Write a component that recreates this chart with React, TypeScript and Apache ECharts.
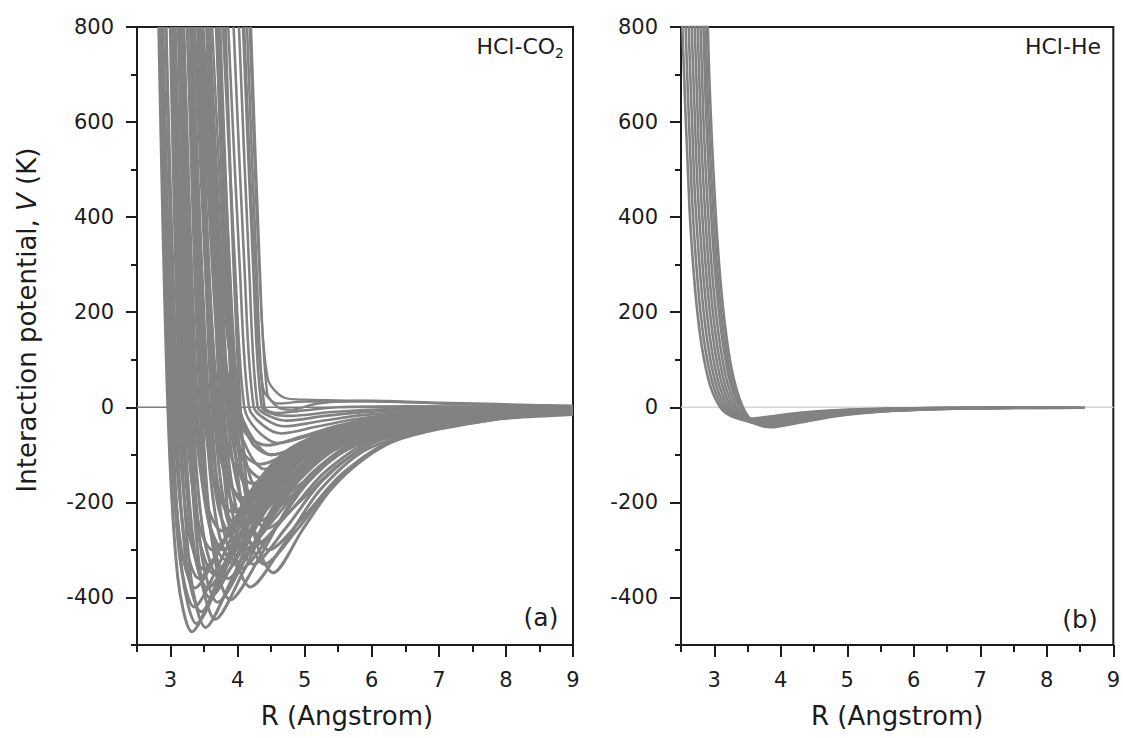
import React, { useEffect, useRef } from 'react';
import * as echarts from 'echarts';

// ---- axis ticks ----
const xMajor = [3, 4, 5, 6, 7, 8, 9];
const xMinor = [2.5, 3.5, 4.5, 5.5, 6.5, 7.5, 8.5];
const yMajor = [-400, -200, 0, 200, 400, 600, 800];
const yMinor = [-500, -300, -100, 100, 300, 500, 700];

// ---- panel (a) HCl-CO2 : deep-well cuts [R (A), V (K)] ----
const deepCurvesA = [
  [[2.825, 800], [2.96, 0], [3.108, -358], [3.321, -472], [3.70, -365], [4.144, -218], [4.736, -106], [5.92, -35], [9, -6]],
  [[2.88, 800], [3.02, 0], [3.171, -345], [3.388, -455], [3.775, -352], [4.228, -210], [4.832, -102], [6.04, -34], [9, -6]],
  [[2.929, 800], [3.08, 0], [3.234, -326], [3.456, -430], [3.85, -332], [4.312, -198], [4.928, -96], [6.16, -32], [9, -6]],
  [[2.996, 800], [3.14, 0], [3.297, -351], [3.523, -463], [3.925, -358], [4.396, -213], [5.024, -104], [6.28, -35], [9, -7]],
  [[3.038, 800], [3.2, 0], [3.36, -304], [3.59, -400], [4.0, -309], [4.48, -184], [5.12, -90], [6.4, -30], [9, -7]],
  [[3.116, 800], [3.27, 0], [3.434, -339], [3.669, -446], [4.088, -345], [4.578, -206], [5.232, -100], [6.54, -33], [9, -8]],
  [[3.15, 800], [3.33, 0], [3.497, -273], [3.736, -360], [4.163, -278], [4.662, -166], [5.328, -81], [6.66, -27], [9, -7]],
  [[3.199, 800], [3.4, 0], [3.57, -243], [3.815, -320], [4.25, -247], [4.76, -148], [5.44, -72], [6.8, -24], [9, -7]],
  [[3.297, 800], [3.47, 0], [3.644, -307], [3.893, -405], [4.338, -313], [4.858, -187], [5.552, -91], [6.94, -30], [9, -9]],
  [[3.313, 800], [3.54, 0], [3.717, -213], [3.972, -280], [4.425, -216], [4.956, -129], [5.664, -63], [7.08, -21], [9, -7]],
  [[3.404, 800], [3.61, 0], [3.791, -258], [4.05, -340], [4.513, -263], [5.054, -157], [5.776, -76], [7.22, -26], [9, -9]],
  [[3.426, 800], [3.68, 0], [3.864, -182], [4.129, -240], [4.6, -186], [5.152, -111], [5.888, -54], [7.36, -18], [9, -7]],
  [[3.537, 800], [3.735, 0], [3.922, -287], [4.191, -378], [4.669, -292], [5.229, -174], [5.976, -85], [7.47, -28], [9, -11]],
  [[3.561, 800], [3.8, 0], [3.99, -220], [4.264, -290], [4.75, -224], [5.32, -134], [6.08, -65], [7.6, -22], [9, -9]],
  [[3.58, 800], [3.87, 0], [4.064, -152], [4.342, -200], [4.838, -155], [5.418, -92], [6.192, -45], [7.74, -15], [9, -7]],
  [[3.817, 800], [4.04, 0], [4.242, -264], [4.533, -348], [4.97, -257], [5.39, -173], [5.88, -109], [6.39, -67], [6.88, -46], [7.37, -32], [8.1, -22], [9, -15]],
  [[3.681, 800], [3.95, 0], [4.148, -194], [4.432, -255], [4.938, -197], [5.53, -118], [6.32, -57], [7.9, -19], [9, -10]],
  [[2.844, 800], [3.0, 0], [3.15, -288], [3.366, -380], [3.75, -294], [4.2, -175], [4.8, -85], [6.0, -28], [9, -5]],
  [[2.933, 800], [3.11, 0], [3.266, -258], [3.489, -340], [3.888, -263], [4.354, -157], [4.976, -76], [6.22, -25], [9, -5]],
  [[3.033, 800], [3.23, 0], [3.392, -228], [3.624, -300], [4.038, -232], [4.522, -138], [5.168, -67], [6.46, -22], [9, -5]],
  [[3.135, 800], [3.36, 0], [3.528, -197], [3.77, -260], [4.2, -201], [4.704, -120], [5.376, -58], [6.72, -19], [9, -5]],
  [[3.248, 800], [3.5, 0], [3.675, -167], [3.927, -220], [4.375, -170], [4.9, -101], [5.6, -49], [7.0, -16], [9, -5]],
  [[3.36, 800], [3.64, 0], [3.822, -144], [4.084, -190], [4.55, -147], [5.096, -88], [5.824, -43], [7.28, -14], [9, -5]],
  [[3.44, 800], [3.76, 0], [3.948, -121], [4.219, -160], [4.7, -124], [5.264, -74], [6.016, -36], [7.52, -12], [9, -5]],
];

// ---- panel (a): intermediate-depth cuts ----
const midCurvesA = [
  [[2.842, 800], [2.99, 0], [3.14, -319], [3.355, -420], [3.738, -325], [4.186, -194], [4.784, -94], [5.98, -32], [9, -5]],
  [[2.885, 800], [3.05, 0], [3.203, -273], [3.422, -360], [3.813, -278], [4.27, -166], [4.88, -81], [6.1, -27], [9, -5]],
  [[3.005, 800], [3.17, 0], [3.329, -288], [3.557, -380], [3.963, -294], [4.438, -175], [5.072, -85], [6.34, -29], [9, -6]],
  [[3.071, 800], [3.25, 0], [3.413, -266], [3.647, -350], [4.063, -271], [4.55, -161], [5.2, -78], [6.5, -26], [9, -6]],
  [[3.135, 800], [3.3, 0], [3.465, -311], [3.703, -410], [4.125, -317], [4.62, -189], [5.28, -92], [6.6, -31], [9, -7]],
  [[3.174, 800], [3.38, 0], [3.549, -228], [3.792, -300], [4.225, -232], [4.732, -138], [5.408, -67], [6.76, -23], [9, -6]],
  [[3.254, 800], [3.44, 0], [3.612, -273], [3.86, -360], [4.3, -278], [4.816, -166], [5.504, -81], [6.88, -27], [9, -8]],
  [[3.316, 800], [3.52, 0], [3.696, -250], [3.949, -330], [4.4, -255], [4.928, -152], [5.632, -74], [7.04, -25], [9, -8]],
  [[3.327, 800], [3.57, 0], [3.749, -190], [4.006, -250], [4.463, -193], [4.998, -115], [5.712, -56], [7.14, -19], [9, -7]],
  [[3.427, 800], [3.65, 0], [3.833, -228], [4.095, -300], [4.563, -232], [5.11, -138], [5.84, -67], [7.3, -23], [9, -8]],
  [[3.432, 800], [3.525, 412], [3.71, 0], [3.896, -159], [4.163, -210], [4.638, -162], [5.194, -97], [5.936, -47], [7.42, -16], [9, -6]],
  [[3.551, 800], [3.77, 0], [3.959, -250], [4.23, -330], [4.713, -255], [5.278, -152], [6.032, -74], [7.54, -25], [9, -10]],
  [[3.571, 800], [3.84, 0], [4.032, -182], [4.308, -240], [4.8, -186], [5.376, -111], [6.144, -54], [7.68, -18], [9, -8]],
  [[3.549, 800], [3.705, 294], [3.9, 0], [4.095, -114], [4.376, -150], [4.875, -116], [5.46, -69], [6.24, -34], [7.8, -11], [9, -6]],
  [[3.737, 800], [3.98, 0], [4.179, -228], [4.466, -300], [4.975, -232], [5.572, -138], [6.368, -67], [7.96, -23], [9, -12]],
  [[3.692, 800], [3.8, 392], [4.0, 0], [4.2, -152], [4.488, -200], [5.0, -155], [5.6, -92], [6.4, -45], [8.0, -15], [9, -9]],
  [[3.693, 800], [3.92, 0], [4.116, -250], [4.398, -330], [4.9, -255], [5.488, -152], [6.272, -74], [7.84, -25], [9, -12]],
  [[3.474, 800], [3.667, 235], [3.86, 0], [4.053, -91], [4.331, -120], [4.825, -93], [5.404, -55], [6.176, -27], [7.72, -9], [9, -5]],
  [[3.58, 800], [3.819, 196], [4.02, 0], [4.221, -76], [4.51, -100], [5.025, -77], [5.628, -46], [6.432, -22], [8.04, -8], [9, -5]],
  [[3.485, 800], [3.762, 157], [3.96, 0], [4.158, -61], [4.443, -80], [4.95, -62], [5.544, -37], [6.336, -18], [7.92, -6], [9, -4]],
];

// ---- panel (a): shallow-well cuts ----
const shallowCurvesA = [
  [[3.62, 800], [3.80, 300], [3.95, 0], [4.15, -90], [4.40, -130], [4.9, -100], [5.5, -60], [6.5, -25], [9, -5]],
  [[3.70, 800], [3.88, 300], [4.03, 0], [4.25, -70], [4.5, -100], [5.0, -78], [5.6, -45], [6.6, -18], [9, -4]],
  [[3.78, 800], [3.96, 300], [4.10, 0], [4.3, -50], [4.6, -75], [5.1, -58], [5.7, -33], [6.7, -14], [9, -3]],
  [[3.86, 800], [4.03, 300], [4.17, 0], [4.38, -38], [4.65, -55], [5.2, -40], [5.8, -24], [6.8, -10], [9, -3]],
  [[3.94, 800], [4.10, 300], [4.24, 0], [4.45, -28], [4.7, -40], [5.2, -30], [5.9, -16], [7, -7], [9, -2]],
  [[4.02, 800], [4.17, 300], [4.30, 0], [4.5, -20], [4.75, -28], [5.3, -18], [6, -9], [7, -4], [9, -1]],
  [[4.08, 800], [4.23, 300], [4.36, 0], [4.55, -15], [4.8, -18], [5.4, -10], [6.2, -4], [9, -1]],
  [[4.14, 800], [4.28, 300], [4.40, 0], [4.6, -12], [4.9, -8], [5.5, 0], [6.5, 2], [9, 0]],
];

// ---- panel (a): cuts with a small repulsive tail ----
const repulsiveCurvesA = [
  [[4.18, 800], [4.32, 300], [4.45, 60], [4.7, 20], [5.0, 16], [5.8, 14], [7, 9], [8, 5], [9, 3]],
  [[4.20, 800], [4.33, 300], [4.44, 30], [4.6, 0], [4.8, -5], [5.2, 8], [6, 14], [7, 10], [9, 3]],
  [[4.10, 800], [4.25, 300], [4.38, 40], [4.6, 8], [5.0, 12], [6, 12], [7.5, 6], [9, 2]],
];

// ---- panel (b) HCl-He cuts ----
const heCurvesB = [
  [[2.503, 864], [2.627, 420], [2.719, 238], [2.812, 129], [2.936, 47], [3.09, 0], [3.245, -18], [3.467, -24], [3.863, -19], [4.326, -11], [4.944, -5], [6.18, -1.5], [7.725, -0.4]],
  [[2.535, 936], [2.661, 455], [2.754, 258], [2.848, 139], [2.974, 51], [3.13, 0], [3.287, -20], [3.512, -26], [3.913, -20], [4.382, -12], [5.008, -6], [6.26, -1.6], [7.825, -0.4]],
  [[2.568, 1008], [2.695, 490], [2.79, 278], [2.885, 150], [3.012, 55], [3.17, 0], [3.329, -21], [3.557, -28], [3.963, -22], [4.438, -13], [5.072, -6], [6.34, -1.7], [7.925, -0.5]],
  [[2.6, 1080], [2.729, 525], [2.825, 298], [2.921, 161], [3.05, 59], [3.21, 0], [3.371, -23], [3.602, -30], [4.013, -23], [4.494, -14], [5.136, -7], [6.42, -1.8], [8.025, -0.5]],
  [[2.633, 1152], [2.763, 560], [2.86, 318], [2.958, 172], [3.088, 63], [3.25, 0], [3.413, -24], [3.647, -32], [4.063, -25], [4.55, -15], [5.2, -7], [6.5, -2], [8.125, -0.5]],
  [[2.665, 1224], [2.797, 595], [2.895, 338], [2.994, 182], [3.126, 67], [3.29, 0], [3.455, -26], [3.691, -34], [4.113, -26], [4.606, -16], [5.264, -8], [6.58, -2.1], [8.225, -0.6]],
  [[2.697, 1296], [2.831, 630], [2.93, 357], [3.03, 193], [3.164, 71], [3.33, 0], [3.497, -27], [3.736, -36], [4.163, -28], [4.662, -17], [5.328, -8], [6.66, -2.2], [8.325, -0.6]],
  [[2.73, 1368], [2.865, 665], [2.966, 377], [3.067, 204], [3.202, 75], [3.37, 0], [3.539, -29], [3.781, -38], [4.213, -29], [4.718, -18], [5.392, -9], [6.74, -2.3], [8.425, -0.6]],
  [[2.754, 1440], [2.89, 700], [2.992, 397], [3.094, 214], [3.23, 78], [3.4, 0], [3.57, -30], [3.815, -40], [4.25, -31], [4.76, -18], [5.44, -9], [6.8, -2.5], [8.5, -0.7]],
  [[2.778, 1512], [2.916, 735], [3.018, 417], [3.121, 225], [3.259, 82], [3.43, 0], [3.602, -32], [3.848, -42], [4.288, -32], [4.802, -19], [5.488, -9], [6.86, -2.6], [8.575, -0.7]],
];

const zeroLine = [[2.5, 0], [9, 0]];

const FONT = 'DejaVu Sans';
const INK = '#1c1c1c';
const CURVE = '#828282';

export default function App() {
  const ref = useRef<HTMLDivElement>(null);

  useEffect(() => {
    const chart = echarts.init(ref.current as HTMLDivElement, null, { renderer: 'svg' });

    const axisLine = { show: true, onZero: false, lineStyle: { color: INK, width: 2 } };
    const hiddenLine = { show: false, onZero: false };
    const mkX = (gi: number, namePad: number[]) => [
      {
        type: 'value', gridIndex: gi, min: 2.5, max: 9, position: 'bottom',
        axisLine,
        axisTick: { show: true, customValues: xMajor, length: 12, lineStyle: { color: INK, width: 2 } },
        axisLabel: { customValues: xMajor, margin: 24, fontSize: 21, fontFamily: FONT, color: INK },
        splitLine: { show: false },
        name: 'R (Angstrom)', nameLocation: 'middle', nameGap: 58,
        nameTextStyle: { fontSize: 26, fontFamily: FONT, color: INK, padding: namePad },
      },
      {
        type: 'value', gridIndex: gi, min: 2.5, max: 9, position: 'bottom',
        axisLine: hiddenLine,
        axisTick: { show: true, customValues: xMinor, length: 7, lineStyle: { color: INK, width: 2 } },
        axisLabel: { show: false },
        splitLine: { show: false },
      },
    ];
    const mkY = (gi: number) => [
      {
        type: 'value', gridIndex: gi, min: -500, max: 800, position: 'left',
        axisLine,
        axisTick: { show: true, customValues: yMajor, length: 11, lineStyle: { color: INK, width: 2 } },
        axisLabel: { customValues: yMajor, margin: 23, fontSize: 21, fontFamily: FONT, color: INK },
        splitLine: { show: false },
      },
      {
        type: 'value', gridIndex: gi, min: -500, max: 800, position: 'left',
        axisLine: hiddenLine,
        axisTick: { show: true, customValues: yMinor, length: 6, lineStyle: { color: INK, width: 2 } },
        axisLabel: { show: false },
        splitLine: { show: false },
      },
    ];

    const curveSeries = (data: number[][], gi: number, width: number) => ({
      type: 'line',
      xAxisIndex: gi * 2,
      yAxisIndex: gi * 2,
      data,
      smooth: 0.3,
      showSymbol: false,
      symbol: 'none',
      silent: true,
      clip: true,
      lineStyle: { color: CURVE, width },
      z: 3,
    });

    const series: any[] = [
      {
        type: 'line', xAxisIndex: 0, yAxisIndex: 0, data: zeroLine, symbol: 'none', silent: true,
        lineStyle: { color: '#7c7c7c', width: 1.5 }, z: 2,
      },
      {
        type: 'line', xAxisIndex: 2, yAxisIndex: 2, data: zeroLine, symbol: 'none', silent: true,
        lineStyle: { color: '#d4d4d4', width: 1.5 }, z: 2,
      },
      ...deepCurvesA.map((c) => curveSeries(c, 0, 3)),
      ...midCurvesA.map((c) => curveSeries(c, 0, 3)),
      ...shallowCurvesA.map((c) => curveSeries(c, 0, 2.6)),
      ...repulsiveCurvesA.map((c) => curveSeries(c, 0, 2.3)),
      ...heCurvesB.map((c) => curveSeries(c, 1, 2.6)),
    ];

    chart.setOption({
      animation: false,
      backgroundColor: '#ffffff',
      grid: [
        { left: 137, top: 27, width: 436, height: 618, show: true, borderColor: INK, borderWidth: 2, backgroundColor: 'transparent' },
        { left: 681, top: 27, width: 434, height: 618, show: true, borderColor: INK, borderWidth: 2, backgroundColor: 'transparent' },
      ],
      xAxis: [...mkX(0, [0, 16, 0, 0]), ...mkX(1, [0, 0, 0, 0])],
      yAxis: [...mkY(0), ...mkY(1)],
      series,
      graphic: [
        {
          type: 'text', x: 27, y: 320, rotation: Math.PI / 2,
          style: {
            text: 'Interaction potential, {i|V} (K)',
            fontSize: 26, fontFamily: FONT, fill: INK, align: 'center', verticalAlign: 'middle',
            rich: { i: { fontSize: 26, fontFamily: FONT, fontStyle: 'italic', fill: INK } },
          },
        },
        {
          type: 'text', x: 564, y: 46,
          style: {
            text: '{a|HCl-CO}{s|2}', align: 'right', verticalAlign: 'middle', fill: INK,
            rich: {
              a: { fontSize: 22, fontFamily: FONT, fill: INK, lineHeight: 28 },
              s: { fontSize: 14, fontFamily: FONT, fill: INK, lineHeight: 28, verticalAlign: 'bottom' },
            },
          },
        },
        {
          type: 'text', x: 1101, y: 46,
          style: { text: 'HCl-He', fontSize: 22, fontFamily: FONT, fill: INK, align: 'right', verticalAlign: 'middle' },
        },
        {
          type: 'text', x: 541, y: 617,
          style: { text: '(a)', fontSize: 25, fontFamily: FONT, fill: INK, align: 'center', verticalAlign: 'middle' },
        },
        {
          type: 'text', x: 1080, y: 619,
          style: { text: '(b)', fontSize: 25, fontFamily: FONT, fill: INK, align: 'center', verticalAlign: 'middle' },
        },
      ],
    });

    return () => chart.dispose();
  }, []);

  return (
    <div
      ref={ref}
      style={{ position: 'absolute', left: 0, top: 0, width: 1123, height: 738, background: '#fff' }}
    />
  );
}
